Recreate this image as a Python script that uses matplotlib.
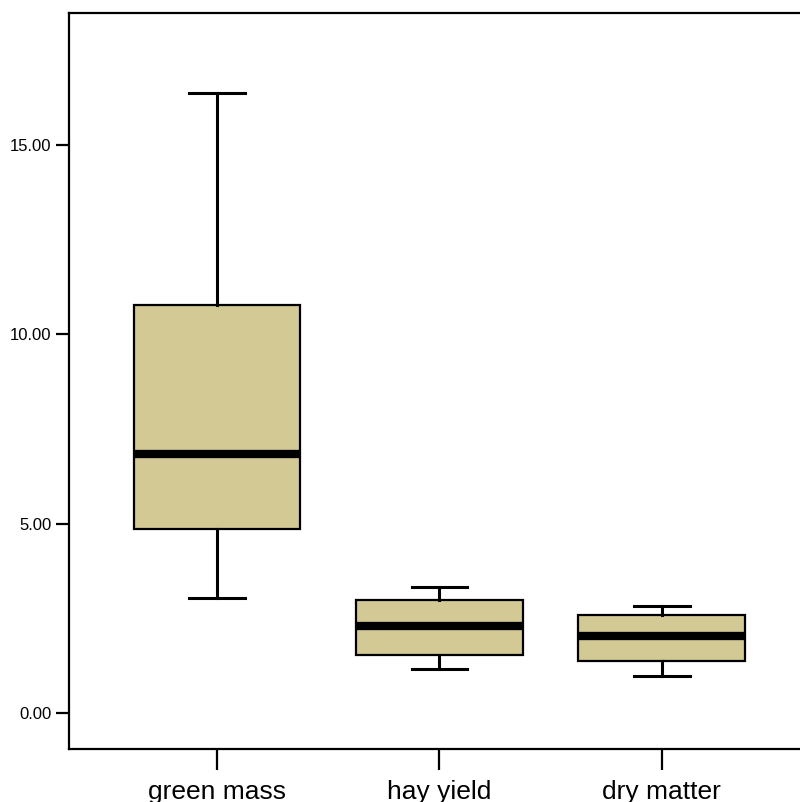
import matplotlib
matplotlib.use("Agg")
import matplotlib.pyplot as plt

# --- Data ---
categories = ["green mass", "hay yield", "dry matter"]
whisker_low = [3.03, 1.16, 0.98]
q1 = [4.85, 1.53, 1.37]
medians = [6.84, 2.30, 2.03]
q3 = [10.77, 2.98, 2.59]
whisker_high = [16.39, 3.33, 2.83]

y_ticks = [0, 5, 10, 15]

# --- Style ---
BOX_COLOR = "#D3C994"
plt.rcParams["font.family"] = ["Liberation Sans", "DejaVu Sans"]

stats = []
for name, lo, a, m, b, hi in zip(categories, whisker_low, q1, medians, q3, whisker_high):
    stats.append({"label": name, "whislo": lo, "q1": a, "med": m, "q3": b, "whishi": hi, "fliers": []})

fig = plt.figure(figsize=(8.0, 8.02), dpi=100)
ax = fig.add_axes([0.08625, 0.066, 0.926, 0.9178])

ax.bxp(stats, positions=[1, 2, 3], widths=0.75, patch_artist=True, showfliers=False,
       boxprops=dict(facecolor=BOX_COLOR, edgecolor="black", linewidth=1.6),
       medianprops=dict(color="black", linewidth=6, solid_capstyle="butt"),
       whiskerprops=dict(color="black", linewidth=2.2),
       capprops=dict(color="black", linewidth=2.2),
       capwidths=0.25)

ax.set_xlim(0.335, 3.665)
ax.set_ylim(-0.95, 18.49)
ax.set_yticks(y_ticks)
ax.set_yticklabels([f"{v:.2f}" for v in y_ticks])

for side in ["left", "bottom", "top"]:
    ax.spines[side].set_linewidth(1.6)
ax.spines["right"].set_visible(False)

ax.tick_params(axis="y", length=9.5, width=1.6, pad=3, labelsize=12)
ax.tick_params(axis="x", length=15, width=1.6, pad=7, labelsize=19)

fig.savefig("out.png", dpi=100)
